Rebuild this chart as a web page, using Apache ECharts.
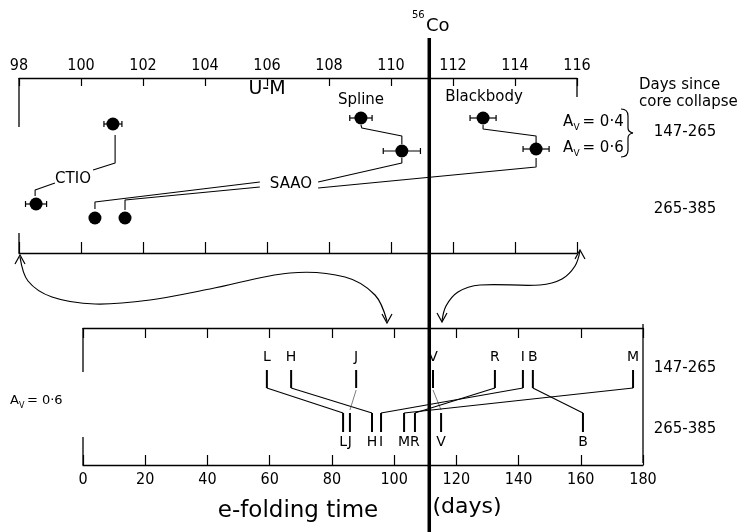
<!DOCTYPE html>
<html><head><meta charset="utf-8">
<script src="https://cdn.jsdelivr.net/npm/echarts@6/dist/echarts.min.js"></script>
<style>html,body{margin:0;padding:0;background:#fff}#c{width:749px;height:532px}</style>
</head><body><div id="c"></div>
<script>
// ---------------- data ----------------
// Top panel: U-M "bolometric" e-folding times (days)
const umMethods = ['CTIO', 'CTIO', 'SAAO', 'SAAO', 'Spline', 'Spline', 'Blackbody', 'Blackbody'];
const umDays    = [101.03, 98.55, 100.45, 101.42, 109.03, 110.35, 112.97, 114.68];
const umErr     = [0.29, 0.34, 0, 0, 0.36, 0.6, 0.42, 0.42];
const umRow     = [46, 126, 140, 140, 40, 73, 40, 71];   // schematic row level within panel

// Bottom panel: broad-band e-folding times (days), A_V = 0.6
const earlyBands = ['L', 'H', 'J', 'V', 'R', 'I', 'B', 'M'];          // 147-265 days
const earlyDays  = [59.1, 66.9, 87.8, 112.5, 132.4, 141.4, 144.6, 176.8];
const lateBands  = ['L', 'J', 'H', 'I', 'M', 'R', 'V', 'B'];          // 265-385 days
const lateDays   = [83.6, 85.8, 92.9, 95.8, 103.2, 106.7, 115.1, 160.7];

const co56Efold = 111.3;

// leader lines of the top panel, in (U-M days, row level)
const leaderPaths = [
  [[101.10, 57], [101.10, 85], [100.39, 92]],
  [[99.16, 105], [98.52, 112], [98.52, 118]],
  [[100.45, 131], [100.45, 124], [105.77, 104]],
  [[101.42, 132], [101.42, 122], [105.77, 109]],
  [[107.65, 104], [110.35, 85], [110.35, 80]],
  [[107.65, 110], [114.68, 89], [114.68, 80]],
  [[109.03, 47], [109.06, 50], [110.35, 58], [110.35, 66]],
  [[112.97, 47], [112.97, 51], [114.68, 58], [114.68, 65]]
];

// ---------------- chart ----------------
const FONT = "'DejaVu Sans', sans-serif";
const NARROW = "'Liberation Sans Narrow', 'DejaVu Sans Condensed', 'Liberation Sans', sans-serif";
const BLACK = '#000';

const chart = echarts.init(document.getElementById('c'), null, {renderer: 'canvas'});

function xAx(o) {
  return Object.assign({
    type: 'value',
    axisLine: {show: true, onZero: false, lineStyle: {color: BLACK, width: 1.3}},
    splitLine: {show: false},
    axisTick: {show: true, inside: true, length: 9, lineStyle: {color: BLACK, width: 1.2}},
    axisLabel: {show: false}
  }, o);
}

function lineSeries(data, xi, yi, width, color, dash) {
  return {
    type: 'line', xAxisIndex: xi, yAxisIndex: yi, data: data,
    symbol: 'none', silent: true, clip: false, animation: false,
    lineStyle: {color: color || BLACK, width: width || 1.1, type: dash || 'solid', opacity: 1}
  };
}

const series = [];

// error bars
series.push({
  type: 'custom', xAxisIndex: 0, yAxisIndex: 0, animation: false, silent: true,
  data: umDays.map((d, i) => [d, umRow[i], umErr[i]]).filter(r => r[2] > 0),
  renderItem: function (params, api) {
    const x = api.value(0), y = api.value(1), e = api.value(2);
    const a = api.coord([x - e, y]), b = api.coord([x + e, y]);
    const st = {stroke: BLACK, lineWidth: 1.2};
    return {type: 'group', children: [
      {type: 'line', shape: {x1: a[0], y1: a[1], x2: b[0], y2: b[1]}, style: st},
      {type: 'line', shape: {x1: a[0], y1: a[1] - 3, x2: a[0], y2: a[1] + 3}, style: st},
      {type: 'line', shape: {x1: b[0], y1: b[1] - 3, x2: b[0], y2: b[1] + 3}, style: st}
    ]};
  }
});
// points
series.push({
  type: 'scatter', xAxisIndex: 0, yAxisIndex: 0, animation: false, silent: true,
  symbol: 'circle', symbolSize: 13, itemStyle: {color: BLACK, opacity: 1},
  data: umDays.map((d, i) => [d, umRow[i]])
});
// leaders
leaderPaths.forEach(p => series.push(lineSeries(p, 0, 0, 1.1)));
// frame pieces of the top panel
series.push(lineSeries([[98, 0], [98, 49]], 0, 0, 1.3));
series.push(lineSeries([[98, 155], [98, 175]], 0, 0, 1.3));
series.push(lineSeries([[116, 0], [116, 19]], 0, 0, 1.3));
// frame pieces of the bottom panel
series.push(lineSeries([[0, 0], [0, 44]], 2, 1, 1.3));
series.push(lineSeries([[0, 109], [0, 137]], 2, 1, 1.3));
series.push(lineSeries([[180, -4], [180, 135]], 2, 1, 1.3));

// band bars
function barSeries(days, top, bottom) {
  return {
    type: 'custom', xAxisIndex: 2, yAxisIndex: 1, animation: false, silent: true,
    data: days.map(d => [d]),
    renderItem: function (params, api) {
      const a = api.coord([api.value(0), top]), b = api.coord([api.value(0), bottom]);
      return {type: 'line', shape: {x1: a[0], y1: a[1], x2: b[0], y2: b[1]}, style: {stroke: BLACK, lineWidth: 2}};
    }
  };
}
series.push(barSeries(earlyDays, 42, 60));
series.push(barSeries(lateDays, 85, 104));

// connectors between epochs
const thinBands = ['J', 'V'];
earlyBands.forEach((b, i) => {
  const j = lateBands.indexOf(b);
  const thin = thinBands.indexOf(b) >= 0;
  series.push(lineSeries([[earlyDays[i], thin ? 62 : 60], [lateDays[j], thin ? 82 : 85]], 2, 1,
    thin ? 0.7 : 1.1, thin ? '#444' : BLACK));
});

// band labels
function bandLabels(bands, days, level) {
  return {
    type: 'scatter', xAxisIndex: 2, yAxisIndex: 1, animation: false, silent: true,
    symbol: 'circle', symbolSize: 1, itemStyle: {color: 'rgba(0,0,0,0)', opacity: 1},
    data: days.map((d, i) => ({value: [d, level], name: bands[i]})),
    label: {show: true, position: 'inside', formatter: p => p.name, opacity: 1,
      color: BLACK, fontSize: 14, fontFamily: FONT}
  };
}
series.push(bandLabels(earlyBands, earlyDays, 29));
series.push(bandLabels(lateBands, lateDays, 114));

// 56Co line
series.push(lineSeries([[co56Efold, 0], [co56Efold, 1]], 4, 2, 3.5));

// ---------------- annotations ----------------
function T(text, x, y, size, align, font) {
  return {type: 'text', silent: true, style: {text: text, x: x, y: y, fill: BLACK,
    font: (size || 15) + 'px ' + (font || FONT), textAlign: align || 'center', textVerticalAlign: 'middle'}};
}
function Av(x, y, val, size) {
  const s = size || 15;
  return [
    T('A', x, y, s, 'left'),
    T('V', x + s * 0.7, y + s * 0.4, Math.round(s * 0.62), 'left'),
    T('= ' + val, x + s * 1.3, y, s, 'left')
  ];
}
const LS = {stroke: BLACK, lineWidth: 1.2, fill: null};
function arrowHead(p, up) {
  const d = up ? 9 : -9;
  return {type: 'polyline', silent: true, shape: {points: [[p[0] - 5, p[1] + d], p, [p[0] + 5, p[1] + d]]}, style: LS};
}
function qb(x1, y1, cx, cy, x2, y2) {
  return {type: 'bezierCurve', silent: true, shape: {x1: x1, y1: y1, cpx1: cx, cpy1: cy, x2: x2, y2: y2}, style: LS};
}
function ln(x1, y1, x2, y2) {
  return {type: 'line', silent: true, shape: {x1: x1, y1: y1, x2: x2, y2: y2}, style: LS};
}
const graphic = [
  T('U-M', 267, 89, 19),
  T('Spline', 361, 100, 15),
  T('Blackbody', 484, 97, 15),
  T('CTIO', 73, 179, 15),
  T('SAAO', 291, 184, 15),
  ...Av(563, 122, '0·4'),
  ...Av(563, 148, '0·6'),
  T('Days since', 639, 85, 15, 'left'),
  T('core collapse', 639, 102, 15, 'left'),
  T('147-265', 685, 132, 15),
  T('265-385', 685, 209, 15),
  T('147-265', 685, 368, 15),
  T('265-385', 685, 429, 15),
  ...Av(10, 401, '0·6', 13),
  T('e-folding time', 298, 511, 23),
  T('(days)', 467, 507, 22),
  T('Co', 426, 26, 18, 'left'),
  T('56', 412, 15, 10, 'left'),
  // brace
  qb(621, 109, 628, 109, 628, 116),
  ln(628, 116, 628, 128),
  qb(628, 128, 628, 132, 633, 133),
  qb(633, 133, 628, 134, 628, 138),
  ln(628, 138, 628, 150),
  qb(628, 150, 628, 157, 621, 157),
  // curved arrows
  {type: 'polyline', silent: true, shape: {smooth: 0.35, points:
    [[20, 257], [28, 281], [52, 297], [95, 304], [150, 300], [210, 289], [290, 273], [345, 277], [375, 295], [387, 321]]},
    style: LS},
  {type: 'polyline', silent: true, shape: {smooth: 0.35, points:
    [[580, 251], [575, 266], [562, 279], [540, 285], [480, 285], [458, 292], [446, 306], [442, 321]]},
    style: LS},
  arrowHead([20, 255], true),
  arrowHead([387, 323], false),
  arrowHead([580, 250], true),
  arrowHead([442, 322], false)
];

chart.setOption({
  animation: false,
  backgroundColor: '#fff',
  grid: [
    {left: 19, top: 78, width: 558, height: 175},
    {left: 83, top: 328, width: 560, height: 137},
    {left: 83, top: 38, width: 560, height: 494}
  ],
  xAxis: [
    xAx({gridIndex: 0, min: 98, max: 116, interval: 2, position: 'top',
      axisTick: {show: true, inside: true, length: 8, lineStyle: {color: BLACK, width: 1.2}},
      axisLabel: {show: true, margin: 4, fontSize: 16, fontFamily: NARROW, color: BLACK}}),
    xAx({gridIndex: 0, min: 98, max: 116, interval: 2, position: 'bottom',
      axisTick: {show: true, inside: true, length: 11, lineStyle: {color: BLACK, width: 1.2}}}),
    xAx({gridIndex: 1, min: 0, max: 180, interval: 20, position: 'bottom',
      axisTick: {show: true, inside: true, length: 10, lineStyle: {color: BLACK, width: 1.2}},
      axisLabel: {show: true, margin: 7, fontSize: 16, fontFamily: NARROW, color: BLACK}}),
    xAx({gridIndex: 1, min: 0, max: 180, interval: 20, position: 'top',
      axisTick: {show: true, inside: true, length: 10, lineStyle: {color: BLACK, width: 1.2}}}),
    {gridIndex: 2, type: 'value', min: 0, max: 180, show: false}
  ],
  yAxis: [
    {gridIndex: 0, type: 'value', min: 0, max: 175, inverse: true, show: false},
    {gridIndex: 1, type: 'value', min: 0, max: 137, inverse: true, show: false},
    {gridIndex: 2, type: 'value', min: 0, max: 1, inverse: true, show: false}
  ],
  series: series,
  graphic: graphic
});
</script>
</body></html>
